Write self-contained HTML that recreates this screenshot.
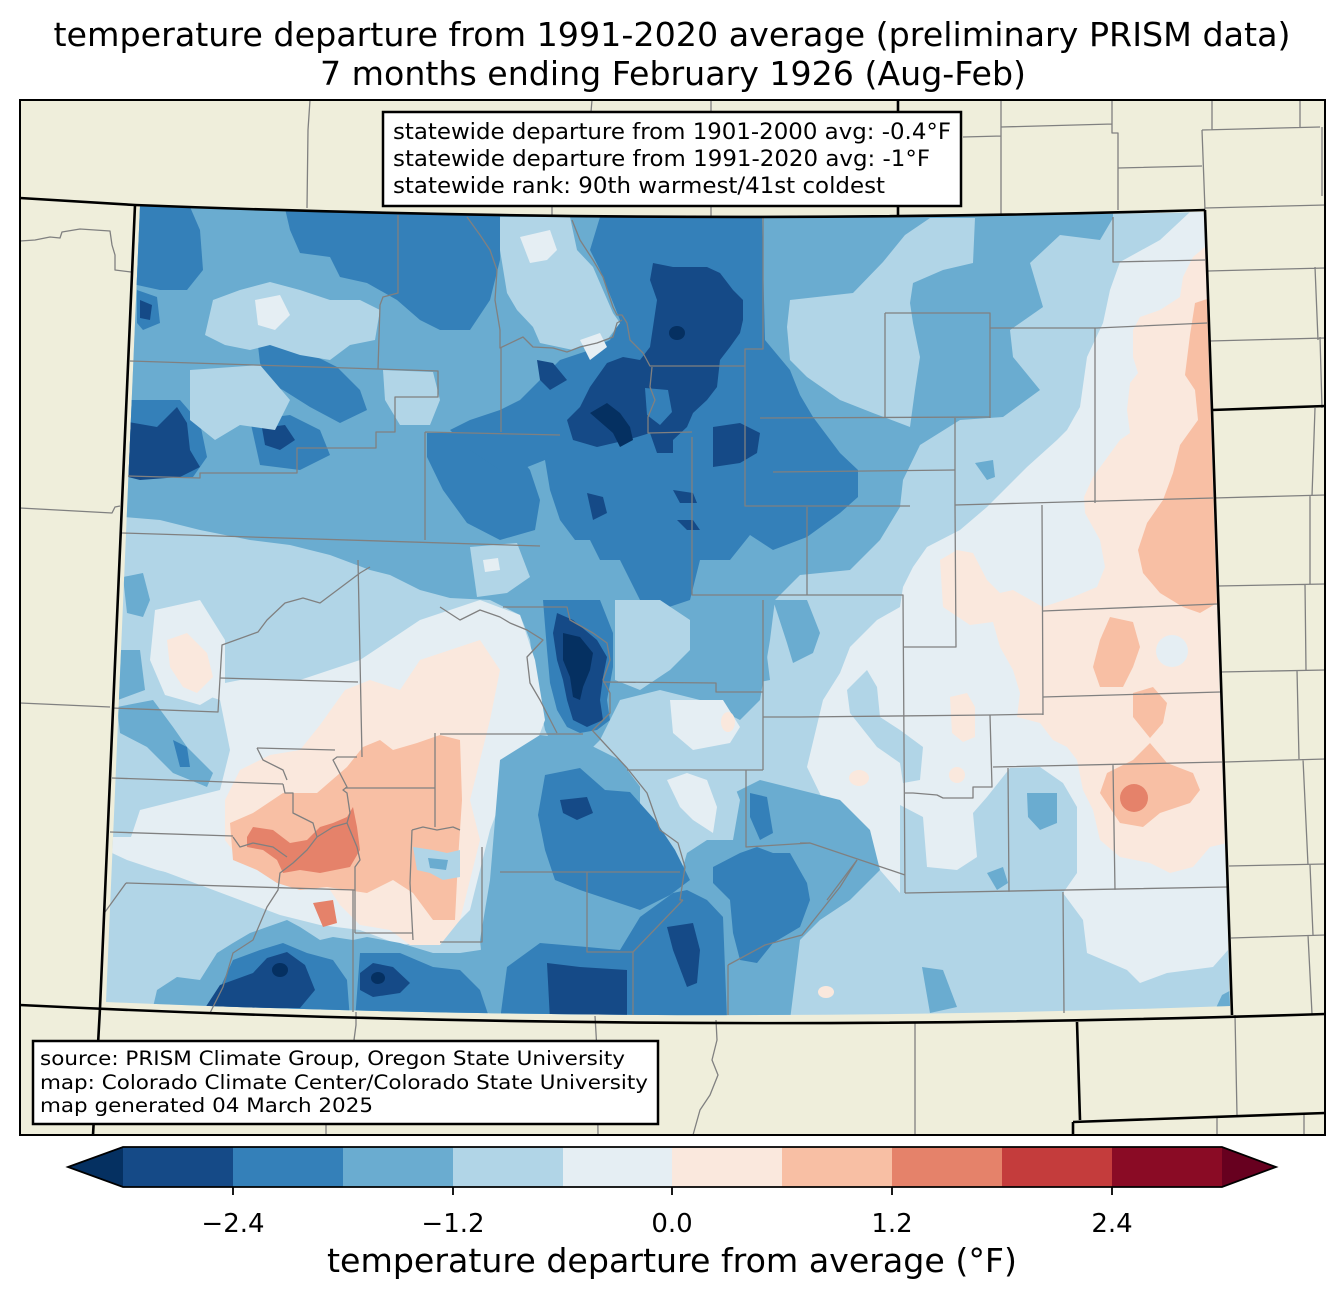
<!DOCTYPE html>
<html><head><meta charset="utf-8"><style>html,body{margin:0;padding:0;background:#fff}svg{display:block}</style></head><body>
<svg width="1344" height="1299" viewBox="0 0 1344 1299" xmlns="http://www.w3.org/2000/svg" font-family="'DejaVu Sans','Liberation Sans',sans-serif">
<defs><clipPath id="co"><path d="M140,206 Q670,224 1204,212 L1230,1006 Q670,1026 106,1002 Z"/></clipPath></defs>
<rect x="0" y="0" width="1344" height="1299" fill="#fff"/>
<text x="672" y="46" font-size="33.3" text-anchor="middle" textLength="1237" lengthAdjust="spacingAndGlyphs">temperature departure from 1991-2020 average (preliminary PRISM data)</text>
<text x="673" y="85" font-size="33.3" text-anchor="middle" textLength="706" lengthAdjust="spacingAndGlyphs">7 months ending February 1926 (Aug-Feb)</text>
<rect x="20" y="100" width="1305" height="1035" fill="#efeedb"/>
<g clip-path="url(#co)">
<rect x="90" y="195" width="1160" height="840" fill="#b1d5e7"/>
<polygon fill="#6aacd0" points="140,200 1113,200 1113,218 1100,240 1060,235 1030,263 1043,307 1010,330 1013,357 1040,390 1003,417 960,420 920,445 903,480 900,507 880,540 850,570 800,575 775,600 770,640 760,700 740,720 700,700 660,690 620,700 600,740 580,760 560,760 545,730 535,680 530,640 520,615 490,600 450,598 420,590 390,575 370,570 330,555 290,545 250,540 200,530 160,520 100,515 100,200"/>
<polygon fill="#b1d5e7" points="790,300 853,293 883,262 905,235 930,218 975,218 973,263 943,270 913,283 910,303 913,323 920,357 915,390 910,427 873,413 840,400 807,377 790,360 787,327"/>
<polygon fill="#e5eef3" points="1190,212 1240,212 1240,960 1228,950 1213,967 1167,973 1140,983 1127,970 1087,953 1083,920 1063,893 900,893 880,870 857,835 823,800 807,767 823,700 840,673 850,647 877,620 900,607 903,587 913,567 927,547 960,530 987,507 1027,467 1057,440 1067,430 1080,407 1087,357 1103,323 1110,290 1120,262 1160,240"/>
<polygon fill="#b1d5e7" points="847,690 867,670 877,687 880,717 900,730 923,747 920,780 903,783 900,763 877,747 850,713"/>
<polygon fill="#b1d5e7" points="900,805 923,817 927,867 957,870 977,857 973,813 987,797 1010,768 1040,767 1063,783 1077,807 1077,873 1063,893 900,893"/>
<polygon fill="#6aacd0" points="1027,793 1057,793 1057,823 1040,830 1028,817"/>
<polygon fill="#6aacd0" points="987,873 1003,867 1008,883 997,890"/>
<polygon fill="#6aacd0" points="975,463 993,460 995,477 987,480"/>
<polygon fill="#6aacd0" points="922,967 943,970 957,1007 930,1013"/>
<polygon fill="#6aacd0" points="1222,995 1235,988 1235,1010 1215,1010"/>
<polygon fill="#fae8dd" points="1205,247 1193,257 1183,277 1180,297 1160,310 1140,317 1133,330 1133,357 1138,373 1130,383 1127,410 1130,433 1120,440 1093,477 1084,497 1085,513 1100,540 1105,567 1097,587 1073,597 1043,607 1013,590 1000,593 987,580 973,553 957,550 940,560 943,607 970,625 993,622 1000,647 1013,670 1020,693 1017,717 1040,723 1053,740 1067,747 1077,760 1083,790 1093,810 1100,840 1120,857 1150,863 1170,873 1193,867 1210,847 1240,840 1240,240"/>
<circle cx="1172" cy="651" r="16" fill="#e5eef3"/>
<polygon fill="#fae8dd" points="950,697 967,693 975,707 975,737 963,742 952,733"/>
<ellipse cx="859" cy="778" rx="10" ry="8" fill="#fae8dd"/>
<ellipse cx="957" cy="775" rx="8" ry="8" fill="#fae8dd"/>
<polygon fill="#f8bfa4" points="1195,303 1210,298 1217,603 1200,613 1183,607 1160,593 1143,573 1138,550 1147,523 1163,500 1173,473 1180,445 1198,420 1195,390 1185,375 1190,335"/>
<polygon fill="#f8bfa4" points="1110,617 1133,622 1140,647 1133,667 1123,687 1100,687 1093,667 1100,640"/>
<polygon fill="#f8bfa4" points="1133,693 1153,687 1167,703 1163,723 1150,738 1133,717"/>
<polygon fill="#f8bfa4" points="1150,743 1167,763 1193,773 1200,790 1190,803 1160,813 1143,827 1120,823 1100,793 1107,773 1133,760"/>
<circle cx="1134" cy="798" r="14" fill="#e5826a"/>
<polygon fill="#3480b9" points="100,200 187,200 200,230 203,270 187,290 160,290 100,277"/>
<polygon fill="#3480b9" points="283,200 500,200 500,260 490,300 470,330 440,330 420,320 397,300 367,283 340,277 330,257 300,253 290,230"/>
<polygon fill="#3480b9" points="100,400 180,400 200,423 207,457 193,477 100,477"/>
<polygon fill="#154a87" points="100,417 157,427 177,407 187,423 190,450 200,467 180,477 140,480 100,470"/>
<polygon fill="#3480b9" points="257,337 287,343 317,357 337,367 360,390 367,410 340,423 310,407 283,390 267,383 260,363"/>
<polygon fill="#3480b9" points="427,433 500,433 530,470 540,500 535,530 500,540 467,523 443,490 427,457"/>
<polygon fill="#3480b9" points="137,290 157,297 160,323 143,330 137,323"/>
<polygon fill="#3480b9" points="250,420 290,415 320,430 330,455 300,470 260,465"/>
<polygon fill="#154a87" points="262,428 285,425 295,440 280,450 265,445"/>
<polygon fill="#154a87" points="140,300 152,305 150,320 140,318"/>
<polygon fill="#b1d5e7" points="213,300 240,290 270,282 300,290 330,300 360,300 380,310 375,340 350,345 330,360 300,355 270,345 250,350 225,345 205,335"/>
<polygon fill="#e5eef3" points="255,300 280,295 290,315 275,330 258,325"/>
<polygon fill="#b1d5e7" points="190,370 260,365 290,400 275,430 240,425 215,440 190,420"/>
<polygon fill="#b1d5e7" points="383,370 433,372 440,400 430,425 400,425 385,400"/>
<polygon fill="#3480b9" points="600,217 762,218 765,340 790,370 800,395 813,417 840,453 858,470 858,497 840,513 807,537 773,550 750,535 730,560 700,560 690,600 660,610 640,600 620,560 600,560 590,540 575,540 560,520 550,490 545,460 520,470 500,470 470,450 450,430 470,420 500,410 520,400 540,380 560,360 590,350 610,340 620,320 612,300 600,270 590,250"/>
<polygon fill="#b1d5e7" points="500,217 570,217 577,250 593,267 613,313 620,323 607,340 587,343 573,350 540,343 533,327 517,310 507,293 500,250"/>
<polygon fill="#e5eef3" points="520,237 550,230 557,250 547,260 530,263"/>
<polygon fill="#e5eef3" points="580,340 600,333 607,347 590,360"/>
<polygon fill="#b1d5e7" points="470,547 517,543 530,577 507,593 477,597"/>
<polygon fill="#e5eef3" points="483,560 498,558 500,570 485,572"/>
<polygon fill="#154a87" points="653,263 673,267 707,267 720,273 733,290 743,300 743,320 740,333 730,347 720,360 717,387 707,400 693,413 687,427 673,440 673,453 657,453 650,433 627,440 597,447 573,440 567,420 580,407 590,387 607,363 623,357 640,360 650,347 653,327 657,300 650,280"/>
<polygon fill="#3480b9" points="645,388 668,390 672,412 660,425 647,415"/>
<polygon fill="#154a87" points="713,427 740,423 760,433 757,453 740,463 713,467"/>
<polygon fill="#053061" points="590,413 607,403 620,413 630,427 633,440 620,447 613,433"/>
<ellipse cx="677" cy="333" rx="8" ry="7" fill="#053061"/>
<polygon fill="#154a87" points="537,360 553,363 567,380 550,390 540,380"/>
<polygon fill="#154a87" points="587,493 603,497 607,513 593,520"/>
<polygon fill="#154a87" points="673,490 693,493 697,503 680,503"/>
<polygon fill="#154a87" points="677,520 693,520 700,530 687,530"/>
<polygon fill="#b1d5e7" points="615,600 660,600 690,620 690,650 670,670 640,690 615,680"/>
<polygon fill="#3480b9" points="543,600 600,600 613,633 613,667 607,700 610,720 597,730 580,733 567,727 557,710 550,683 547,650"/>
<polygon fill="#154a87" points="557,613 573,620 597,640 607,657 603,677 600,700 603,720 587,727 573,720 567,700 563,680 557,660 553,633"/>
<polygon fill="#053061" points="563,633 580,637 593,653 590,670 583,687 580,700 573,697 570,677 563,660"/>
<polygon fill="#6aacd0" points="773,600 807,600 820,633 813,653 793,663 787,643"/>
<polygon fill="#6aacd0" points="740,640 765,640 770,680 745,685"/>
<polygon fill="#e5eef3" points="670,700 723,700 740,727 730,743 693,750 673,733"/>
<ellipse cx="728" cy="722" rx="7" ry="10" fill="#fae8dd"/>
<polygon fill="#e5eef3" points="190,690 240,680 300,680 360,660 420,620 480,600 520,615 535,660 545,720 530,760 505,790 490,830 480,870 470,910 440,940 400,945 360,930 320,925 280,915 240,900 200,885 160,870 130,840 140,810 180,800 220,790 230,750 220,700"/>
<polygon fill="#e5eef3" points="155,610 200,600 225,640 225,690 200,705 165,695 150,660"/>
<polygon fill="#fae8dd" points="167,640 187,633 207,653 213,677 197,693 183,687 170,667"/>
<polygon fill="#6aacd0" points="117,707 153,700 173,727 187,747 213,773 207,787 173,773 147,747 120,733"/>
<polygon fill="#3480b9" points="173,740 187,747 190,767 180,767"/>
<polygon fill="#6aacd0" points="123,577 143,573 150,600 143,617 127,613"/>
<polygon fill="#6aacd0" points="118,650 140,650 145,690 118,700"/>
<polygon fill="#e5eef3" points="113,837 187,837 217,847 233,860 220,880 187,877 157,870 127,860 112,853"/>
<polygon fill="#fae8dd" points="225,800 240,770 270,755 300,750 320,725 345,690 370,680 400,690 420,660 450,650 480,640 500,670 490,720 480,760 470,800 480,840 470,880 460,920 440,945 410,945 390,930 360,925 340,905 330,890 300,880 270,870 240,860 225,840"/>
<polygon fill="#f8bfa4" points="230,823 253,813 283,793 317,793 347,767 363,747 380,740 393,750 417,743 440,735 460,740 462,800 458,860 455,920 433,920 413,893 393,880 367,893 327,887 300,890 277,883 257,870 233,860"/>
<polygon fill="#e5826a" points="247,837 253,827 273,830 290,843 307,840 320,827 333,823 347,817 353,807 357,827 360,850 350,867 320,873 300,870 283,873 277,860 263,850 247,847"/>
<polygon fill="#e5826a" points="313,903 333,900 337,923 323,927"/>
<polygon fill="#b1d5e7" points="413,847 433,850 447,853 460,850 460,877 443,880 430,873 417,870"/>
<polygon fill="#6aacd0" points="428,858 448,860 446,870 430,868"/>
<polygon fill="#6aacd0" points="150,1020 157,990 177,977 200,980 217,953 233,943 250,933 267,927 287,920 300,927 320,940 333,937 353,940 367,937 400,943 433,953 460,953 480,950 500,945 500,1020"/>
<polygon fill="#3480b9" points="205,1020 233,960 260,950 283,943 307,953 333,960 347,980 350,1020"/>
<polygon fill="#3480b9" points="355,1020 360,953 400,953 433,967 460,970 480,990 490,1020"/>
<polygon fill="#154a87" points="205,1008 220,985 253,973 267,958 287,952 305,965 315,990 300,1008"/>
<polygon fill="#154a87" points="360,973 373,963 393,967 410,983 400,993 373,997 360,990"/>
<ellipse cx="280" cy="970" rx="8" ry="7" fill="#053061"/>
<ellipse cx="378" cy="978" rx="7" ry="6" fill="#053061"/>
<polygon fill="#6aacd0" points="500,760 540,735 580,740 620,760 650,800 690,820 720,800 760,780 800,790 840,800 870,830 880,870 850,900 820,920 800,940 795,980 790,1020 490,1020 485,990 480,940 490,880 495,820"/>
<polygon fill="#b1d5e7" points="640,767 727,767 740,800 733,840 707,840 687,853 680,877 673,877 657,833 640,807"/>
<polygon fill="#e5eef3" points="667,780 687,773 707,780 717,807 713,833 693,820 680,807"/>
<polygon fill="#3480b9" points="545,775 580,768 605,790 630,792 655,820 675,850 690,880 670,895 640,910 610,900 580,890 555,880 545,850 538,815"/>
<polygon fill="#3480b9" points="500,1020 507,967 540,943 587,947 620,950 640,917 673,893 687,890 707,900 723,917 727,1020"/>
<polygon fill="#154a87" points="547,963 580,967 627,970 627,1020 550,1020"/>
<polygon fill="#154a87" points="667,927 693,923 700,950 697,983 687,987 673,950"/>
<polygon fill="#154a87" points="560,800 587,797 593,813 577,820 563,813"/>
<polygon fill="#3480b9" points="713,867 740,853 757,847 773,853 790,853 807,883 810,900 800,927 773,943 757,963 740,960 733,933 730,900 713,883"/>
<polygon fill="#3480b9" points="750,793 767,797 773,833 760,840 750,817"/>
<ellipse cx="826" cy="992" rx="8" ry="6" fill="#fae8dd"/>
</g>
<g fill="none" stroke="#808080" stroke-width="1.3" stroke-linejoin="round">
<path d="M398,215 L398,293 L383,297 L380,305 L378,369"/>
<path d="M130,361 L378,369 L438,371 L438,397 L395,397 L395,432 L376,432 L376,448 L297,448 L297,473 L200,473 L200,478 L128,476"/>
<path d="M425,432 L560,435 M425,432 L425,540 M501,348 L501,432"/>
<path d="M122,533 L540,546"/>
<path d="M467,217 L480,235 L490,250 L497,270 L495,300 L500,330 L500,348 L523,337 L533,347 L553,348 L567,352 L580,347 L597,343 L613,337 L617,323 L622,320"/>
<path d="M572,220 L580,240 L593,260 L603,277 L613,307 L617,315 L622,315 L627,323 L630,340 L643,353 L650,366 L745,366"/>
<path d="M652,367 L650,387 L655,400 L648,417 L648,433 L692,432"/>
<path d="M763,217 L763,349 L745,349 L745,506 L910,506 M760,418 L990,417 M773,472 L955,470"/>
<path d="M692,437 L692,595 L903,595 L905,893 M807,507 L807,595"/>
<path d="M885,313 L990,313 L990,418 M885,313 L885,418 M990,328 L1097,328 L1207,323 M1113,217 L1113,262 L1205,260 M1095,328 L1095,503 M955,418 L955,505 M955,505 L1213,498"/>
<path d="M903,647 L956,647 L955,505 M1042,505 L1043,715 M800,717 L990,715 L1043,714 M1043,697 L1220,692 M1043,611 L1217,604"/>
<path d="M990,715 L992,787 L973,787 L973,798 L943,798 L937,795 L913,793 L905,793 M993,767 L1222,762 M1008,768 L1009,892 M1113,765 L1115,890 M905,893 L1227,887 M1063,892 L1064,1013"/>
<path d="M800,843 L810,843 L905,875 M857,860 L827,900"/>
<path d="M603,682 L716,683 L716,692 L763,692 M763,600 L763,770 M763,717 L800,717 M627,770 L763,770 M746,770 L746,847 L810,843"/>
<path d="M440,734 L583,734 M500,872 L680,872 M587,872 L587,952 L633,952 L633,1015 M633,952 L683,900 M728,965 L728,1015"/>
<path d="M728,965 L765,945 L802,935 L840,887 L857,860"/>
<path d="M482,847 L482,942 L440,942"/>
<path d="M592,730 L627,768 L647,793 L660,830 L678,843 L685,867 L680,900 L683,900"/>
<path d="M440,607 L460,620 L480,610 L500,617 L510,623 L527,630 L543,640 L527,657 L530,683 L540,700 L557,733"/>
<path d="M503,607 L567,607 L570,620 L593,633 L607,643 L610,660 L603,680 L610,693 L610,713 L593,730"/>
<path d="M112,778 L283,784 M112,708 L218,712 L222,645 L258,632 L267,620 L285,603 L303,598 L320,603 L360,573 L370,567"/>
<path d="M220,678 L358,682 M358,560 L362,757 M257,748 L335,750 M110,832 L233,836 M126,883 L355,890 M126,883 L105,912 M353,890 L353,1012"/>
<path d="M345,788 L435,788 M435,733 L435,827 M355,933 L412,933"/>
<path d="M283,784 L285,793 L293,793 L293,813 L313,823 L317,837 L307,850 L293,863 L280,873 L278,890 L267,907 L253,940 L233,953 L223,987 L210,1013"/>
<path d="M233,837 L240,847 L253,843 L273,847 L287,857"/>
<path d="M317,837 L333,827 L347,823 L350,813 L347,793 L343,790 L347,787 L333,760 L337,757 L357,757"/>
<path d="M347,823 L357,847 L360,860 L355,867 L355,933"/>
<path d="M412,830 L423,827 L437,830 L453,827 L460,830 M412,830 L410,883 L413,940"/>
<path d="M257,748 L263,760 L283,770 L287,780"/>
<path d="M310,100 L308,130 L307,208"/>
<path d="M592,100 L591,112 M552,206 L552,216 M711,100 L711,216 M807,117 L897,117"/>
<path d="M963,137 L1001,136 M1001,100 L1001,214 M1001,127 L1112,124 M1112,100 L1112,133 L1118,133 L1118,210 M1118,168 L1202,166 M1212,100 L1212,130 M1202,130 L1320,127 M1202,130 L1205,210 M1300,100 L1300,127 M1322,127 L1322,196"/>
<path d="M1205,208 L1325,205 M1208,271 L1325,268 M1315,267 L1318,340 M1210,341 L1325,338 M1320,337 L1322,408"/>
<path d="M1214,498 L1325,495 M1315,408 L1312,496 M1218,586 L1325,584 M1310,496 L1310,584 M1220,672 L1325,670 M1305,584 L1306,670 M1297,670 L1299,759"/>
<path d="M1225,762 L1325,759 M1303,759 L1308,865 M1229,866 L1325,864 M1310,865 L1313,935 M1231,938 L1325,935 M1308,935 L1312,1014"/>
<path d="M915,1023 L915,1135 M1235,1015 L1237,1115 M1217,1118 L1217,1135 M1304,1114 L1304,1135"/>
<path d="M20,241 L35,240 L50,237 L60,238 L62,232 L80,229 L110,231 L112,245 L115,255 L115,270 L131,272"/>
<path d="M20,508 L112,513 L115,507 L120,506 M20,703 L110,707"/>
<path d="M356,1012 L356,1025 L354,1040 M595,1016 L597,1050 L598,1135 M716,1020 L717,1040 L712,1060 L718,1075 L710,1095 L700,1110 L693,1135 M326,1124 L326,1135"/>
</g>
<g fill="none" stroke="#000" stroke-width="2.6" stroke-linejoin="round">
<path d="M20,198 L135,205 Q670,226 1205,210"/>
<path d="M1205,210 L1212,410 L1325,406 M1212,410 L1232,1015"/>
<path d="M20,1005 Q650,1036 1325,1014"/>
<path d="M135,205 L100,1008 L93,1135"/>
<path d="M1077,1022 L1080,1120 M1073,1122 L1325,1113 M1073,1122 L1073,1135"/>
<path d="M898,100 L898,216"/>
</g>
<rect x="20" y="100" width="1305" height="1035" fill="none" stroke="#000" stroke-width="2"/>
<rect x="383" y="112" width="578" height="94" fill="#fff" stroke="#000" stroke-width="2.5"/>
<text font-size="22.2" fill="#000">
<tspan x="393" y="139" textLength="558" lengthAdjust="spacingAndGlyphs">statewide departure from 1901-2000 avg: -0.4°F</tspan>
<tspan x="393" y="166" textLength="537" lengthAdjust="spacingAndGlyphs">statewide departure from 1991-2020 avg: -1°F</tspan>
<tspan x="393" y="193" textLength="492" lengthAdjust="spacingAndGlyphs">statewide rank: 90th warmest/41st coldest</tspan>
</text>
<rect x="33" y="1041" width="625" height="83" fill="#fff" stroke="#000" stroke-width="2.5"/>
<text font-size="19.4" fill="#000">
<tspan x="40" y="1065" textLength="585" lengthAdjust="spacingAndGlyphs">source: PRISM Climate Group, Oregon State University</tspan>
<tspan x="40" y="1089" textLength="608" lengthAdjust="spacingAndGlyphs">map: Colorado Climate Center/Colorado State University</tspan>
<tspan x="40" y="1112" textLength="333" lengthAdjust="spacingAndGlyphs">map generated 04 March 2025</tspan>
</text>
<polygon points="68,1167 123,1147 123,1187" fill="#053061"/>
<rect x="123" y="1147" width="110" height="40" fill="#154a87"/>
<rect x="233" y="1147" width="110" height="40" fill="#3480b9"/>
<rect x="343" y="1147" width="110" height="40" fill="#6aacd0"/>
<rect x="453" y="1147" width="110" height="40" fill="#b1d5e7"/>
<rect x="563" y="1147" width="110" height="40" fill="#e5eef3"/>
<rect x="672" y="1147" width="110" height="40" fill="#fae8dd"/>
<rect x="782" y="1147" width="110" height="40" fill="#f8bfa4"/>
<rect x="892" y="1147" width="110" height="40" fill="#e5826a"/>
<rect x="1002" y="1147" width="110" height="40" fill="#c43c3c"/>
<rect x="1112" y="1147" width="110" height="40" fill="#8a0b25"/>
<polygon points="1222,1147 1276,1167 1222,1187" fill="#67001f"/>
<path d="M68,1167 L123,1147 L1222,1147 L1276,1167 L1222,1187 L123,1187 Z" fill="none" stroke="#000" stroke-width="1.8"/>
<g stroke="#000" stroke-width="1.8">
<line x1="233" y1="1187" x2="233" y2="1195"/><line x1="453" y1="1187" x2="453" y2="1195"/><line x1="672" y1="1187" x2="672" y2="1195"/><line x1="892" y1="1187" x2="892" y2="1195"/><line x1="1112" y1="1187" x2="1112" y2="1195"/>
</g>
<g font-size="26" text-anchor="middle" fill="#000">
<text x="233" y="1232">−2.4</text>
<text x="453" y="1232">−1.2</text>
<text x="672" y="1232">0.0</text>
<text x="892" y="1232">1.2</text>
<text x="1112" y="1232">2.4</text>
</g>
<text x="672" y="1272" font-size="33.3" text-anchor="middle" textLength="690" lengthAdjust="spacingAndGlyphs">temperature departure from average (°F)</text>
</svg>
</body></html>
